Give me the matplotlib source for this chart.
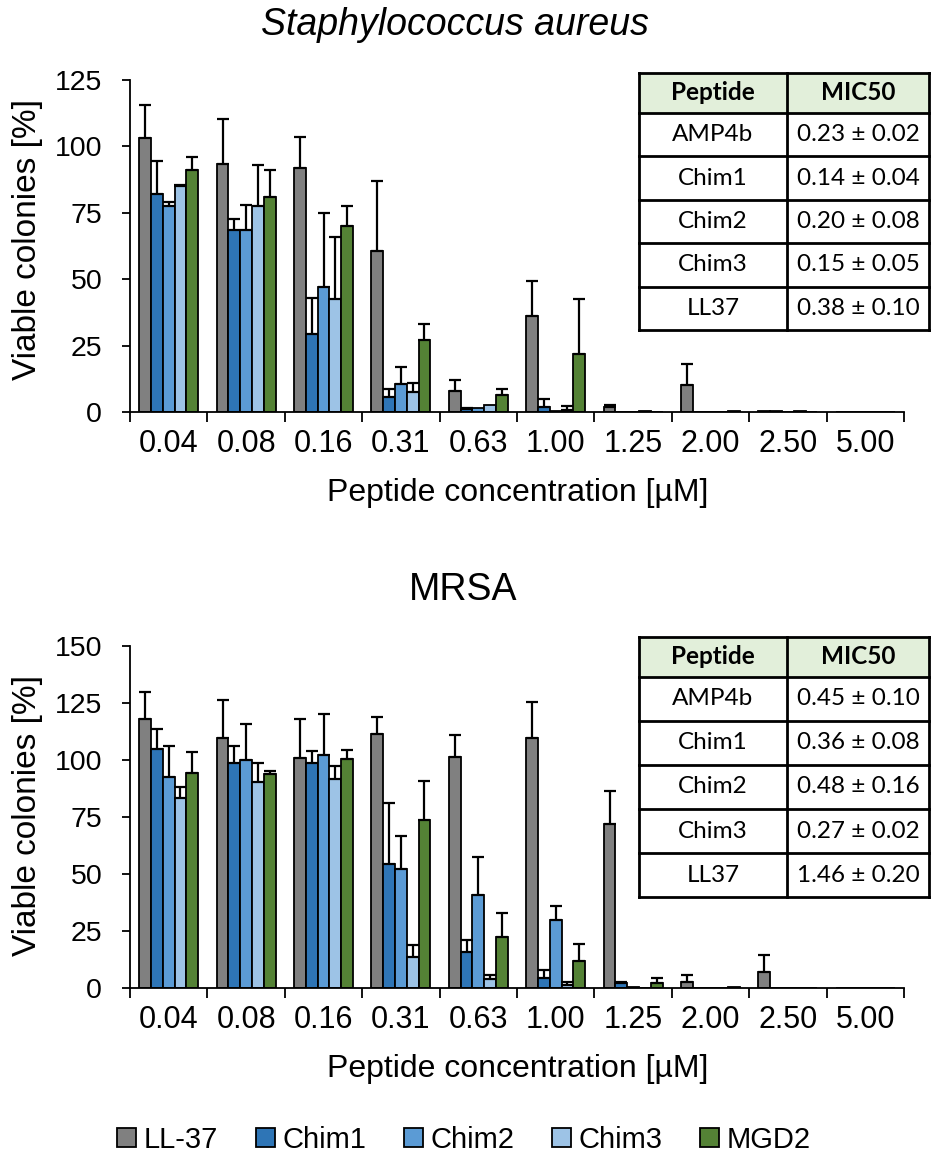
import numpy as np
import matplotlib
matplotlib.use("Agg")
import matplotlib.pyplot as plt
from matplotlib import font_manager
from matplotlib.patches import Rectangle

# ---------------- data ----------------
categories = ['0.04', '0.08', '0.16', '0.31', '0.63', '1.00', '1.25', '2.00', '2.50', '5.00']
series_names = ['LL-37', 'Chim1', 'Chim2', 'Chim3', 'MGD2']

sa_ll37 = [103, 93.5, 92, 60.5, 8, 36, 2, 10, 0.3, 0]
sa_ll37_err = [12.5, 17, 11.5, 26.5, 4, 13.5, 0.5, 8, 0, 0]
sa_chim1 = [82, 68.5, 29.5, 5.5, 1.2, 2, 0, 0, 0.3, 0]
sa_chim1_err = [12.5, 4, 13.5, 3, 0.3, 3, 0, 0, 0, 0]
sa_chim2 = [77.5, 68.5, 47, 10.5, 1.5, 0.3, 0, 0, 0, 0]
sa_chim2_err = [1.5, 9.5, 28, 6.5, 0, 0, 0, 0, 0, 0]
sa_chim3 = [85, 77.5, 42.5, 7.5, 2.5, 0.6, 0.3, 0, 0.3, 0]
sa_chim3_err = [0.5, 15.5, 23.5, 3.5, 0, 1.5, 0, 0, 0, 0]
sa_mgd2 = [91, 81, 70, 27, 6.5, 22, 0, 0.3, 0, 0]
sa_mgd2_err = [5, 10, 7.5, 6, 2, 20.5, 0, 0, 0, 0]

mr_ll37 = [118, 109.5, 101, 111.5, 101.5, 109.5, 72, 2.5, 7, 0]
mr_ll37_err = [12, 17, 17, 7.5, 9.5, 16, 14.5, 3, 7.5, 0]
mr_chim1 = [105, 98.5, 98.5, 54.5, 16, 4.5, 2, 0, 0, 0]
mr_chim1_err = [8.5, 7.5, 5.5, 26.5, 5, 3.5, 0.5, 0, 0, 0]
mr_chim2 = [92.5, 100, 102, 52, 41, 30, 0.5, 0, 0, 0]
mr_chim2_err = [13.5, 16, 18, 14.5, 16.5, 6, 0, 0, 0, 0]
mr_chim3 = [83.5, 90.5, 91.5, 13.5, 4, 1.5, 0, 0, 0, 0]
mr_chim3_err = [4.5, 8, 6, 5.5, 1.5, 1, 0, 0, 0, 0]
mr_mgd2 = [94.5, 94, 100.5, 73.5, 22.5, 12, 2, 0.3, 0, 0]
mr_mgd2_err = [9, 1, 4, 17.5, 10.5, 7.5, 2.5, 0, 0, 0]

table_peptides = ['AMP4b', 'Chim1', 'Chim2', 'Chim3', 'LL37']
sa_mic50 = ['0.23 ± 0.02', '0.14 ± 0.04', '0.20 ± 0.08', '0.15 ± 0.05', '0.38 ± 0.10']
mr_mic50 = ['0.45 ± 0.10', '0.36 ± 0.08', '0.48 ± 0.16', '0.27 ± 0.02', '1.46 ± 0.20']

# ---------------- style ----------------
colors = ['#808080', '#2E75B6', '#5B9BD5', '#9DC3E6', '#548235']
names = {f.name for f in font_manager.fontManager.ttflist}
main_font = 'Liberation Sans' if 'Liberation Sans' in names else 'DejaVu Sans'
narrow_ok = 'Liberation Sans Narrow' in names
legend_font = 'Liberation Sans Narrow' if narrow_ok else main_font
table_font = 'Lato' if 'Lato' in names else main_font
plt.rcParams['font.family'] = [main_font, 'DejaVu Sans']

W, H = 931, 1162
fig = plt.figure(figsize=(W / 100, H / 100), dpi=100)


def fx(px):
    return px / W


def fy(py):
    return 1 - py / H


def draw_panel(ax, data, errs, ymax, yticks):
    n = len(categories)
    x = np.arange(n)
    bw = 0.152
    for k, (vals, err, c, nm) in enumerate(zip(data, errs, colors, series_names)):
        pos = x + (k - 2) * bw
        ax.bar(pos, vals, width=bw, color=c, edgecolor='black', linewidth=1.3,
               label=nm, zorder=2)
        vals_a = np.array(vals, float)
        err_a = np.array(err, float)
        m = err_a > 0
        if m.any():
            ax.errorbar(pos[m], vals_a[m], yerr=[np.zeros(m.sum()), err_a[m]],
                        fmt='none', ecolor='black', elinewidth=1.6, capsize=4.3,
                        capthick=1.6, zorder=3)
    ax.set_xlim(-0.5, n - 0.5)
    ax.set_ylim(0, ymax)
    ax.set_yticks(yticks)
    ax.set_yticklabels([str(t) for t in yticks], fontsize=20.5)
    ax.set_xticks(np.arange(n + 1) - 0.5)
    ax.set_xticklabels([])
    ax.set_xticks(x, minor=True)
    ax.set_xticklabels(categories, minor=True, fontsize=22)
    ax.tick_params(axis='x', which='minor', length=0, pad=12)
    ax.tick_params(axis='x', which='major', length=7, width=1.3, direction='out')
    ax.tick_params(axis='y', length=6, width=1.3, direction='out', pad=14)
    for s in ['top', 'right']:
        ax.spines[s].set_visible(False)
    for s in ['left', 'bottom']:
        ax.spines[s].set_linewidth(1.3)


def draw_table(left, top, right, bottom, values):
    tax = fig.add_axes([fx(left), fy(bottom), fx(right - left), (bottom - top) / H])
    tax.set_xlim(0, right - left)
    tax.set_ylim(bottom - top, 0)
    tax.axis('off')
    w = right - left
    hh = 40
    rh = (bottom - top - hh) / 5
    mid = 148
    tax.add_patch(Rectangle((0, 0), w, hh, facecolor='#E2EFDA', edgecolor='none', zorder=1))
    lw = 2.0
    ys = [0, hh] + [hh + rh * (i + 1) for i in range(5)]
    for yy in ys:
        tax.plot([0, w], [yy, yy], color='black', lw=lw, zorder=3, solid_capstyle='projecting',
                 clip_on=False)
    for xx in [0, mid, w - 1]:
        tax.plot([xx, xx], [0, bottom - top], color='black', lw=lw, zorder=3,
                 solid_capstyle='projecting', clip_on=False)
    fam = [table_font, 'DejaVu Sans']
    fs = 17.5
    tax.text(mid / 2, hh / 2, 'Peptide', ha='center', va='center', fontsize=fs,
             fontweight='bold', family=fam)
    tax.text((mid + w) / 2, hh / 2, 'MIC50', ha='center', va='center', fontsize=fs,
             fontweight='bold', family=fam)
    for i, (p, v) in enumerate(zip(table_peptides, values)):
        yc = hh + rh * (i + 0.5)
        tax.text(mid / 2, yc, p, ha='center', va='center', fontsize=fs, family=fam)
        tax.text((mid + w) / 2, yc, v, ha='center', va='center', fontsize=fs, family=fam)


# top panel
ax1 = fig.add_axes([fx(130), fy(412), fx(904 - 130), (412 - 80) / H])
draw_panel(ax1, [sa_ll37, sa_chim1, sa_chim2, sa_chim3, sa_mgd2],
           [sa_ll37_err, sa_chim1_err, sa_chim2_err, sa_chim3_err, sa_mgd2_err],
           125, [0, 25, 50, 75, 100, 125])

# bottom panel
ax2 = fig.add_axes([fx(130), fy(988), fx(904 - 130), (988 - 646) / H])
draw_panel(ax2, [mr_ll37, mr_chim1, mr_chim2, mr_chim3, mr_mgd2],
           [mr_ll37_err, mr_chim1_err, mr_chim2_err, mr_chim3_err, mr_mgd2_err],
           150, [0, 25, 50, 75, 100, 125, 150])

# titles and labels
fig.text(fx(455), fy(25), 'Staphylococcus aureus', ha='center', va='center',
         fontsize=27, style='italic')
fig.text(fx(463), fy(590), 'MRSA', ha='center', va='center', fontsize=27)
fig.text(fx(28), fy(240), 'Viable colonies [%]', ha='center', va='center',
         rotation=90, fontsize=24)
fig.text(fx(28), fy(815), 'Viable colonies [%]', ha='center', va='center',
         rotation=90, fontsize=24)
fig.text(fx(518), fy(493), 'Peptide concentration [µM]', ha='center', va='center',
         fontsize=23)
fig.text(fx(518), fy(1069), 'Peptide concentration [µM]', ha='center', va='center',
         fontsize=23)

# tables
draw_table(639, 73, 930, 330, sa_mic50)
draw_table(639, 637, 930, 897, mr_mic50)

# legend
handles, labels = ax1.get_legend_handles_labels()
leg = fig.legend(handles, labels, loc='center', bbox_to_anchor=(fx(464), fy(1140)),
                 ncol=5, frameon=False, handlelength=0.65, handleheight=0.65,
                 handletextpad=0.25, columnspacing=1.3,
                 prop={'family': legend_font, 'size': 24 if narrow_ok else 21})

fig.savefig('out.png', dpi=100)
